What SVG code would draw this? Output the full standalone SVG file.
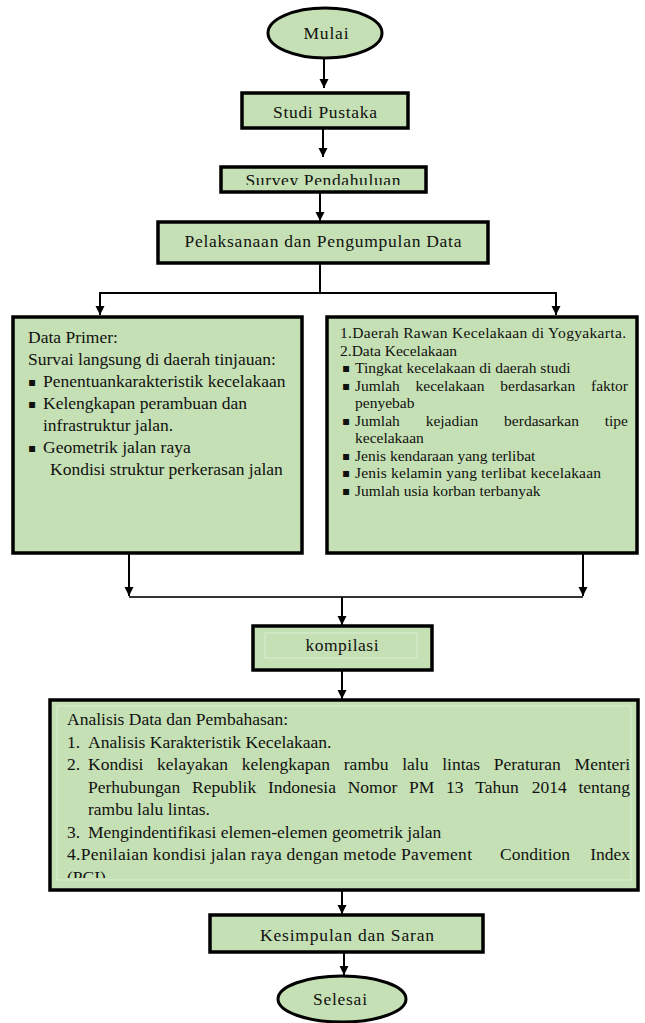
<svg xmlns="http://www.w3.org/2000/svg" width="645" height="1023" viewBox="0 0 645 1023">
<style>
.box{fill:#c5e0b4;stroke:#000;stroke-width:3.5}
.term{fill:#c5e0b4;stroke:#000;stroke-width:3}
.inner{fill:none;stroke:#dcedd2;stroke-width:1}
.t{font-family:"Liberation Serif","Times New Roman",serif;fill:#111}
.c{text-anchor:middle}
.f17{font-size:17.5px}
.f15{font-size:15.5px}
.e{text-anchor:end}
.b{font-family:"DejaVu Sans",sans-serif;font-size:12px;fill:#111}
.ln{fill:none;stroke:#000;stroke-width:2}
</style>
<defs>
<marker id="ah" markerUnits="userSpaceOnUse" markerWidth="10" markerHeight="11" refX="9" refY="5" orient="auto">
<path d="M0,0.5 L9,5 L0,9.5 Z" fill="#000"/>
</marker>
<clipPath id="clipSurvey"><rect x="222" y="160" width="200" height="25"/></clipPath>
<clipPath id="clipAnalisis"><rect x="52" y="702" width="584" height="176"/></clipPath>
</defs>

<g id="connectors">
<line class="ln" x1="324" y1="58" x2="324" y2="88" marker-end="url(#ah)"/>
<line class="ln" x1="323" y1="128" x2="323" y2="157" marker-end="url(#ah)"/>
<line class="ln" x1="320" y1="192" x2="320" y2="221" marker-end="url(#ah)"/>
<polyline class="ln" points="320,263 320,293"/>
<polyline class="ln" points="100,293 556,293"/>
<line class="ln" x1="100" y1="292" x2="100" y2="315" marker-end="url(#ah)"/>
<line class="ln" x1="556" y1="292" x2="556" y2="315" marker-end="url(#ah)"/>
<line class="ln" x1="129" y1="553" x2="129" y2="596" marker-end="url(#ah)"/>
<line class="ln" x1="583" y1="553" x2="583" y2="596" marker-end="url(#ah)"/>
<polyline class="ln" points="129,597 583,597" style="stroke:#333"/>
<line class="ln" x1="342" y1="597" x2="342" y2="625" marker-end="url(#ah)"/>
<line class="ln" x1="342" y1="670" x2="342" y2="699" marker-end="url(#ah)"/>
<line class="ln" x1="342" y1="890" x2="342" y2="914" marker-end="url(#ah)"/>
<line class="ln" x1="344" y1="952" x2="344" y2="975" marker-end="url(#ah)"/>
</g>

<g id="mulai">
<ellipse class="term" cx="325" cy="33" rx="57" ry="25"/>
<text class="t c f17" x="326" y="39" textLength="45">Mulai</text>
</g>

<g id="studi-pustaka">
<rect class="box" x="242" y="93" width="166" height="35"/>
<text class="t c f17" x="325" y="118" textLength="104">Studi Pustaka</text>
</g>

<g id="survey-pendahuluan">
<rect class="box" x="221" y="167" width="205" height="25"/>
<text class="t c f17" x="323" y="186" textLength="155" clip-path="url(#clipSurvey)">Survey Pendahuluan</text>
</g>

<g id="pelaksanaan">
<rect class="box" x="158" y="222" width="330" height="41"/>
<text class="t c f17" x="323" y="247" textLength="277">Pelaksanaan dan Pengumpulan Data</text>
</g>

<g id="data-primer">
<rect class="box" x="13" y="317" width="289" height="236"/>
<text class="t f17" x="28" y="343">Data Primer:</text>
<text class="t f17" x="28" y="365">Survai langsung di daerah tinjauan:</text>
<text class="b" x="28" y="386">▪</text>
<text class="t f17" x="43" y="387">Penentuankarakteristik kecelakaan</text>
<text class="b" x="28" y="408">▪</text>
<text class="t f17" x="43" y="409">Kelengkapan perambuan dan</text>
<text class="t f17" x="43" y="431">infrastruktur jalan.</text>
<text class="b" x="28" y="452">▪</text>
<text class="t f17" x="43" y="453">Geometrik jalan raya</text>
<text class="t f17" x="50" y="475">Kondisi struktur perkerasan jalan</text>
</g>

<g id="data-sekunder">
<rect class="box" x="327" y="317" width="310" height="236"/>
<text class="t f15" x="340" y="338" textLength="286">1.Daerah Rawan Kecelakaan di Yogyakarta.</text>
<text class="t f15" x="340" y="355.5">2.Data Kecelakaan</text>
<text class="b" x="342" y="372">▪</text>
<text class="t f15" x="355" y="373">Tingkat kecelakaan di daerah studi</text>
<text class="b" x="342" y="389.5">▪</text>
<text class="t f15" y="390.5"><tspan x="355">Jumlah</tspan><tspan x="415.6">kecelakaan</tspan><tspan x="500.3">berdasarkan</tspan></text>
<text class="t f15 e" x="628" y="390.5">faktor</text>
<text class="t f15" x="355" y="408">penyebab</text>
<text class="b" x="342" y="424.5">▪</text>
<text class="t f15" y="425.5"><tspan x="355">Jumlah</tspan><tspan x="425.7">kejadian</tspan><tspan x="504.1">berdasarkan</tspan></text>
<text class="t f15 e" x="628" y="425.5">tipe</text>
<text class="t f15" x="355" y="443">kecelakaan</text>
<text class="b" x="342" y="459.5">▪</text>
<text class="t f15" x="355" y="460.5">Jenis kendaraan yang terlibat</text>
<text class="b" x="342" y="477">▪</text>
<text class="t f15" x="355" y="478" textLength="246">Jenis kelamin yang terlibat kecelakaan</text>
<text class="b" x="342" y="494.5">▪</text>
<text class="t f15" x="355" y="495.5">Jumlah usia korban terbanyak</text>
</g>

<g id="kompilasi">
<rect class="box" x="253" y="626" width="179" height="44"/>
<rect class="inner" x="265" y="633" width="152" height="25"/>
<text class="t c f17" x="342" y="651" textLength="73">kompilasi</text>
</g>

<g id="analisis">
<rect class="box" x="50" y="700" width="588" height="190"/>
<rect class="inner" x="57" y="706" width="574" height="174"/>
<g clip-path="url(#clipAnalisis)">
<text class="t f17" x="67" y="725">Analisis Data dan Pembahasan:</text>
<text class="t f17" x="67" y="747.5">1.</text>
<text class="t f17" x="88" y="747.5">Analisis Karakteristik Kecelakaan.</text>
<text class="t f17" x="67" y="770">2.</text>
<text class="t f17" y="770"><tspan x="88">Kondisi</tspan><tspan x="157.1">kelayakan</tspan><tspan x="241.7">kelengkapan</tspan><tspan x="343.8">rambu</tspan><tspan x="402.2">lalu</tspan><tspan x="442.2">lintas</tspan><tspan x="493.8">Peraturan</tspan></text>
<text class="t f17 e" x="630" y="770">Menteri</text>
<text class="t f17" y="792.5"><tspan x="88">Perhubungan</tspan><tspan x="192">Republik</tspan><tspan x="267.9">Indonesia</tspan><tspan x="347.7">Nomor</tspan><tspan x="409">PM</tspan><tspan x="446">13</tspan><tspan x="475.3">Tahun</tspan><tspan x="531.7">2014</tspan></text>
<text class="t f17 e" x="630" y="792.5">tentang</text>
<text class="t f17" x="88" y="815">rambu lalu lintas.</text>
<text class="t f17" x="67" y="837.5">3.</text>
<text class="t f17" x="88" y="837.5">Mengindentifikasi elemen-elemen geometrik jalan</text>
<text class="t f17" x="67" y="860" textLength="405">4.Penilaian kondisi jalan raya dengan metode Pavement</text>
<text class="t f17" x="500" y="860">Condition</text>
<text class="t f17 e" x="630" y="860">Index</text>
<text class="t f17" x="67" y="882.5">(PCI)</text>
</g>
</g>

<g id="kesimpulan">
<rect class="box" x="210" y="915" width="273" height="37"/>
<text class="t c f17" x="347" y="941" textLength="174">Kesimpulan dan Saran</text>
</g>

<g id="selesai">
<ellipse class="term" cx="342" cy="999" rx="64" ry="23"/>
<text class="t c f17" x="340" y="1005" textLength="54">Selesai</text>
</g>
</svg>
